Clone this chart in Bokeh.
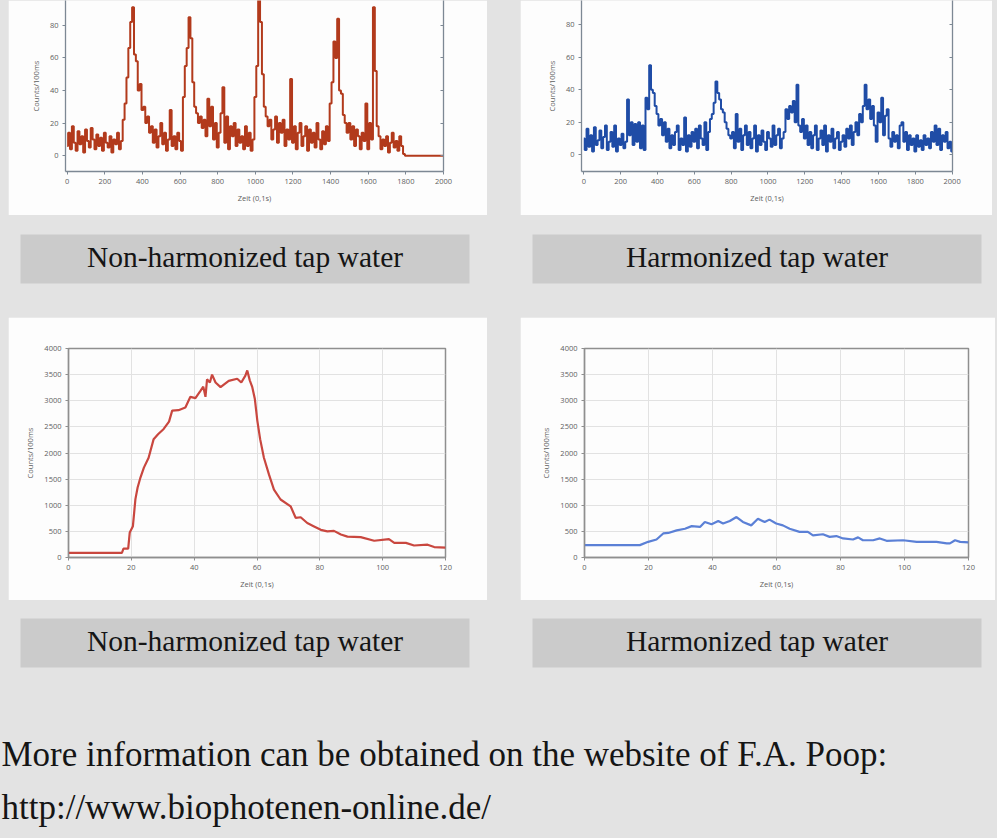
from bokeh.plotting import figure
from bokeh.models import Range1d, FixedTicker, LinearAxis, Label, Spacer, CustomLabelingPolicy
from bokeh.layouts import column, row
from bokeh.embed import file_html
from bokeh.resources import INLINE

# ---------------- data ----------------
zeit_top = list(range(0, 2001, 10))   # sample positions (0.1 s)

counts_non_harmonized = [
    6, 14, 4, 18, 8, 3, 15, 7, 12, 2, 16, 9, 5, 17, 10, 4, 13, 6, 11, 3, 14, 8, 5, 12, 2, 10, 7, 14, 4, 9,
    22, 32, 48, 66, 82,
    91, 62, 58, 40, 44, 28, 30, 20, 24, 14, 18,
    8, 16, 5, 12, 20, 7, 14, 3, 10, 28, 6, 12, 4, 14, 9, 3,
    36, 55, 66, 85, 72, 45, 30, 26, 20,
    24, 17, 22, 12, 35, 18, 30, 10, 20, 5,
    14, 26, 42, 8, 24, 4, 18, 12, 20, 6,
    16, 8, 12, 4, 18, 6, 14, 3, 10,
    36, 55, 100, 82, 50, 30,
    24, 18, 22, 10, 16, 24, 8, 20, 14, 22,
    6, 16, 10, 47, 8, 18, 4, 14, 20, 6,
    12, 18, 3, 16, 8, 14, 5, 20, 10, 4, 15, 7, 18, 9,
    32, 45, 70, 60, 84, 40, 38, 25, 20,
    14, 20, 10, 18, 6, 16, 12, 4, 14, 9,
    32, 4, 20, 10, 91, 52, 18, 12,
    4, 10, 6, 12, 2, 8, 14, 5, 9, 3, 12, 6, 1,
    0, 0, 0, 0, 0, 0, 0, 0, 0, 0, 0, 0, 0, 0, 0, 0, 0, 0, 0, 0, 0,
]

counts_harmonized = [
    10, 3, 16, 5, 12, 2, 17, 6, 9, 15, 4, 11, 18, 3, 8, 14, 5, 18, 2, 10, 6, 13, 4, 8,
    34, 12, 20, 6, 19, 8, 20, 4, 18, 3,
    35, 28, 55, 40, 38, 30, 25, 18, 22, 12, 20, 8,
    16, 4, 12, 6, 14, 18, 3, 10, 6, 23, 2, 12, 5, 14, 8, 16, 4, 18, 10, 6, 20, 3, 14, 22,
    25, 32, 45, 38, 34, 28, 26, 20, 16, 12, 10, 14,
    4, 25, 8, 16, 3, 12, 18, 6, 14, 4, 10, 18, 2, 12, 6, 15, 8, 3, 14, 10, 5, 18, 6, 12, 16, 4, 10, 14,
    28, 22, 30, 26, 33, 20, 43, 18, 14, 22,
    10, 18, 6, 14, 4, 12, 18, 3, 10, 15, 6, 18, 2, 12, 8, 16, 4, 10, 14, 3, 8, 12, 5, 16, 10, 18, 6, 14, 20, 12,
    25, 20, 30, 43, 28, 34, 22, 30, 18, 8, 26, 20, 35, 12, 24, 28, 10, 5, 14, 8,
    12, 4, 18, 20, 8, 14, 3, 12, 6, 10, 2, 12, 5, 9, 3, 12, 6, 10, 4, 14, 8, 18, 6, 16, 3, 12, 8, 14, 4, 8, 2,
]

zeit_decay_non_harmonized = [
    0, 17, 17.5, 19, 19.5, 20.5, 21.3, 22, 22.9, 24,
    25.5, 27.1, 28.5, 30.3, 32, 33, 35, 37.2, 38.8, 40.4,
    42, 42.9, 43.6, 44.1, 45, 45.7, 46.8, 48.4, 51, 53.7,
    55, 56.3, 56.9, 57.7, 58.5, 59.3, 60.1, 61, 62.2, 63.8,
    65.4, 67.5, 70.7, 72.3, 73.9, 76, 78, 80.3, 82.4, 84.5,
    86.7, 88.8, 93, 97.3, 102, 103.7, 107.4, 110, 114.3, 116.4, 120,
]
decay_non_harmonized = [
    90, 90, 170, 170, 480, 600, 1117, 1340, 1530, 1720,
    1910, 2265, 2360, 2460, 2600, 2810, 2820, 2870, 3075, 3050,
    3190, 3270, 3075, 3410, 3350, 3500, 3350, 3260, 3380, 3420,
    3350, 3480, 3580, 3390, 3260, 3040, 2620, 2265, 1910, 1590,
    1300, 1110, 980, 760, 770, 660, 600, 530, 500, 510,
    440, 400, 390, 320, 350, 280, 280, 230, 245, 200, 190,
]

zeit_decay_harmonized = [
    0, 17.3, 19.9, 22.5, 24.6, 26.2, 28.8, 31.4, 33.5, 36.1,
    37.6, 39.7, 41.8, 43.3, 45.4, 47.5, 49.5, 52.1, 54.2, 56.3,
    57.8, 59.9, 62, 64.1, 67.2, 69.8, 71.4, 74.5, 76.6, 78.7,
    80.8, 83.9, 85.5, 87, 90.2, 92.3, 94.4, 99.6, 103.8, 110,
    113.2, 114.2, 115.8, 117.4, 120,
]
decay_harmonized = [
    237, 237, 300, 345, 460, 470, 520, 550, 600, 585,
    680, 635, 700, 650, 700, 775, 680, 615, 740, 680,
    725, 650, 615, 550, 490, 490, 425, 445, 395, 410,
    365, 345, 385, 330, 330, 365, 320, 330, 300, 300,
    270, 270, 330, 300, 290,
]

caption_labels = ["Non-harmonized tap water", "Harmonized tap water"]
info_lines = ["More information can be obtained on the website of F.A. Poop:",
              "http://www.biophotenen-online.de/"]
x_label = "Zeit (0,1s)"
y_label = "Counts/100ms"
x_ticks_top = [0, 200, 400, 600, 800, 1000, 1200, 1400, 1600, 1800, 2000]
y_ticks_top = [0, 20, 40, 60, 80, 100]
x_ticks_bottom = [0, 20, 40, 60, 80, 100, 120]
y_ticks_bottom = [0, 500, 1000, 1500, 2000, 2500, 3000, 3500, 4000]

# ---------------- styles ----------------
PAGE_BG = "#e3e3e3"
BOX_BG = "#cbcbcb"
PANEL_BG = "#fdfdfd"
AXIS_C = "#7d8894"
TICK_FONT = "Open Sans"
SERIF = "Liberation Serif"


def style_axis(ax, tick_out=3, tick_in=0):
    ax.axis_line_color = AXIS_C
    ax.axis_line_width = 1.3
    ax.major_tick_line_color = AXIS_C
    ax.major_tick_out = tick_out
    ax.major_tick_in = tick_in
    ax.minor_tick_line_color = None
    ax.major_label_text_font = TICK_FONT
    ax.major_label_text_font_size = "7.5px"
    ax.major_label_text_color = "#5e5e5e"
    ax.major_label_standoff = 4
    ax.axis_label_text_font = TICK_FONT
    ax.axis_label_text_font_size = "7.5px"
    ax.axis_label_text_font_style = "normal"
    ax.axis_label_text_color = "#5e5e5e"
    ax.axis_label_standoff = 6


def top_chart(width, xr, yr, borders, ys, color):
    l, r, t, b = borders
    p = figure(width=width, height=215, x_range=Range1d(*xr), y_range=Range1d(*yr),
               output_backend="svg", toolbar_location=None,
               min_border_left=l, min_border_right=r, min_border_top=t, min_border_bottom=b,
               background_fill_color=PANEL_BG, border_fill_color=PANEL_BG,
               outline_line_color=None)
    p.grid.visible = False
    p.xaxis.ticker = FixedTicker(ticks=x_ticks_top)
    p.yaxis.ticker = FixedTicker(ticks=y_ticks_top)
    p.xaxis.axis_label = x_label
    p.yaxis.axis_label = y_label
    for ax in p.xaxis + p.yaxis:
        style_axis(ax)
    rax = LinearAxis(ticker=FixedTicker(ticks=y_ticks_top),
                     major_label_policy=CustomLabelingPolicy(code="return new Set()"))
    style_axis(rax, tick_out=0, tick_in=3)
    rax.major_label_standoff = 0
    p.add_layout(rax, "right")
    p.step(zeit_top, ys, mode="center", line_color=color, line_width=2)
    return p


def bottom_chart(width, borders, xs, ys, color):
    l, r, t, b = borders
    p = figure(width=width, height=283, x_range=Range1d(0, 120), y_range=Range1d(0, 4000),
               output_backend="svg", toolbar_location=None,
               min_border_left=l, min_border_right=r, min_border_top=t, min_border_bottom=b,
               background_fill_color=PANEL_BG, border_fill_color=PANEL_BG,
               outline_line_color="#8f8f8f", outline_line_width=1.5)
    p.xaxis.ticker = FixedTicker(ticks=x_ticks_bottom)
    p.yaxis.ticker = FixedTicker(ticks=y_ticks_bottom)
    p.xgrid.ticker = FixedTicker(ticks=x_ticks_bottom)
    p.ygrid.ticker = FixedTicker(ticks=y_ticks_bottom)
    p.grid.grid_line_color = "#e2e2e2"
    p.grid.grid_line_width = 1
    p.xaxis.axis_label = x_label
    p.yaxis.axis_label = y_label
    for ax in p.xaxis + p.yaxis:
        style_axis(ax)
        ax.axis_line_color = "#8f8f8f"
        ax.major_tick_line_color = "#8f8f8f"
    p.line(xs, ys, line_color=color, line_width=2.2)
    return p


def band(height, box_top, box_bottom, extra=()):
    p = figure(width=997, height=height, x_range=Range1d(0, 997), y_range=Range1d(height, 0),
               output_backend="svg", toolbar_location=None,
               x_axis_location=None, y_axis_location=None, min_border=0,
               background_fill_color=PAGE_BG, border_fill_color=PAGE_BG,
               outline_line_color=None)
    p.grid.visible = False
    p.quad(left=[20, 532], right=[469, 981], top=[box_top, box_top],
           bottom=[box_bottom, box_bottom], fill_color=BOX_BG, line_color=None)
    for cx, txt in zip([244.5, 756.5], caption_labels):
        p.add_layout(Label(x=cx, y=(box_top + box_bottom) / 2 - 2, text=txt,
                           text_font=SERIF, text_font_size="29.5px", text_color="#151515",
                           text_align="center", text_baseline="middle"))
    for (x, y, txt) in extra:
        p.add_layout(Label(x=x, y=y, text=txt, text_font=SERIF, text_font_size="35px",
                           text_color="#151515", text_align="left",
                           text_baseline="alphabetic"))
    return p


p_tl = top_chart(479, (-9, 2000), (-9.7, 95.2), (57, 44, 0, 42),
                 counts_non_harmonized, "#b23a1c")
p_tr = top_chart(472, (-12.5, 2002), (-10.2, 94.7), (61, 40, 0, 44),
                 counts_harmonized, "#1f4ca6")
p_bl = bottom_chart(479, (60, 42, 31, 43), zeit_decay_non_harmonized,
                    decay_non_harmonized, "#c9473f")
p_br = bottom_chart(475, (64, 27, 30, 42), zeit_decay_harmonized,
                    decay_harmonized, "#5b80d6")

band2 = band(102, 19, 68)
band4 = band(238, 18, 67, extra=[(1, 154, info_lines[0]), (1, 207, info_lines[1])])

row1 = row(Spacer(width=8, height=215), p_tl, Spacer(width=33, height=215), p_tr,
           Spacer(width=5, height=215), spacing=0)
row3 = row(Spacer(width=8, height=283), p_bl, Spacer(width=33, height=283), p_br,
           Spacer(width=2, height=283), spacing=0)

root = column(row1, band2, row3, band4, spacing=0,
              styles={"background-color": PAGE_BG})

open("out.html", "w").write(file_html(root, INLINE))
